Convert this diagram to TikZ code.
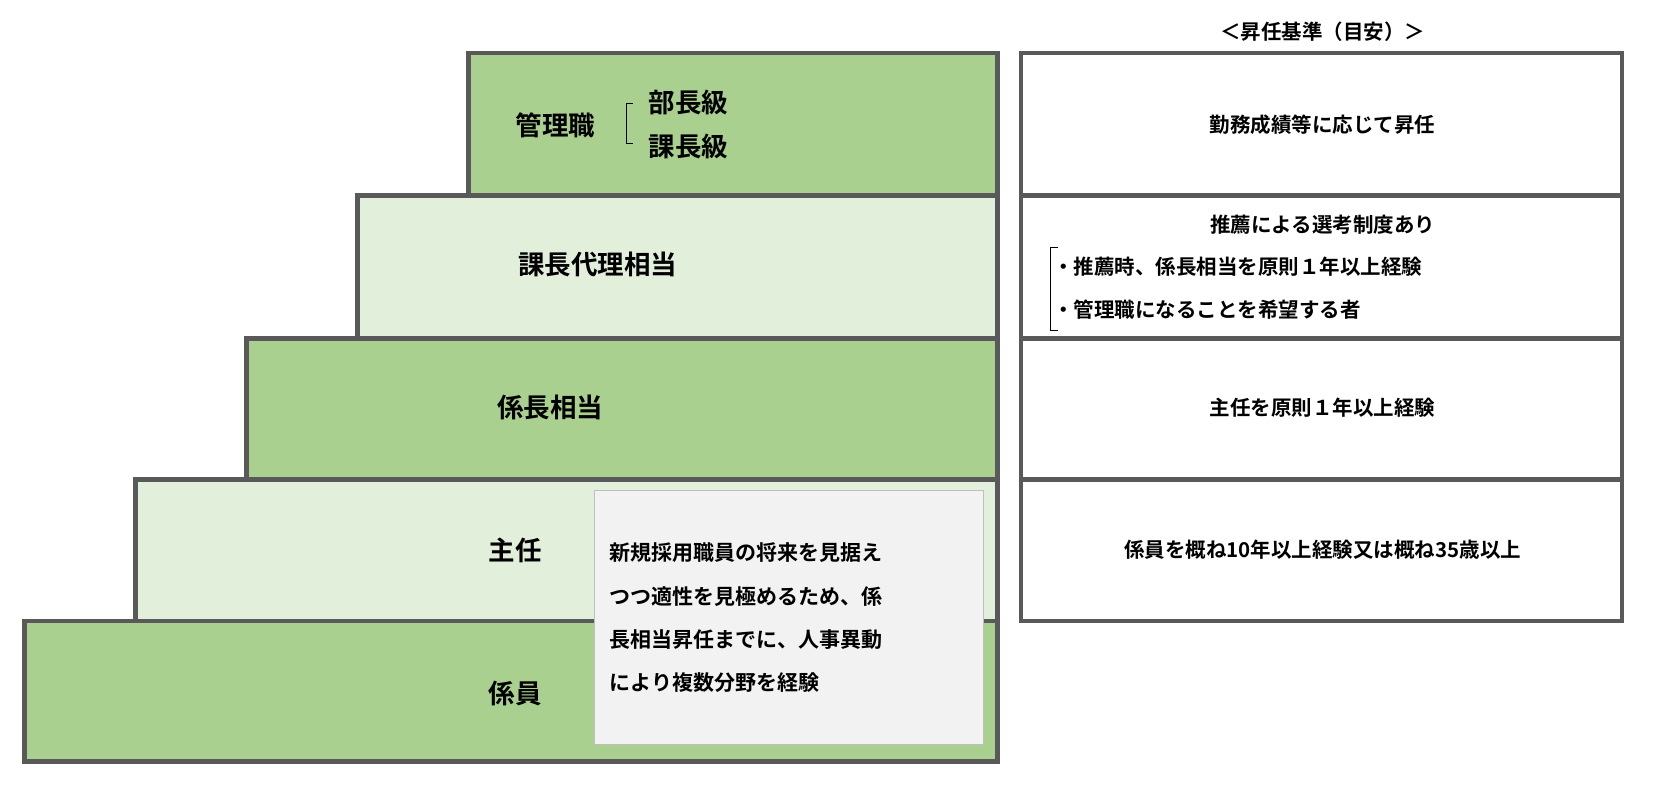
\documentclass[tikz,border=0pt]{standalone}
\usepackage{fontspec}
\setmainfont{Noto Sans CJK JP}[BoldFont={Noto Sans CJK JP Bold}]
\definecolor{dg}{HTML}{A9D08E}
\definecolor{lg}{HTML}{E2EFDA}
\definecolor{bd}{HTML}{595959}
\begin{document}
\begin{tikzpicture}[x=1.058pt,y=-1.058pt,
 stepbox/.style={draw=bd,line width=4.8pt},
 crit/.style={draw=bd,line width=4.8pt,fill=white},
 big/.style={font=\fontsize{26.5}{32}\selectfont\bfseries},
 small/.style={font=\fontsize{20.5}{25}\selectfont\bfseries}]
\path[stepbox,fill=dg] (443,50) rectangle (943,185);
\path[stepbox,fill=lg] (338,185) rectangle (943,320);
\path[stepbox,fill=dg] (233,320) rectangle (943,453);
\path[stepbox,fill=lg] (128,453) rectangle (943,587);
\path[stepbox,fill=dg] (23,587) rectangle (943,720);
\node[big] (k1) at (525,118) {管理職};
\draw[line width=1pt] (598,98) -- (592,98) -- (592,136) -- (598,136);
\node[big,anchor=west] (k2) at (610,97) {部長級};
\node[big,anchor=west] (k3) at (610,138) {課長級};
\node[big] (k4) at (565,250) {課長代理相当};
\node[big] (k5) at (520,385) {係長相当};
\node[big] (k6) at (487,520) {主任};
\node[big] (k7) at (487,655) {係員};
\node[draw=black!25,line width=1pt,fill=black!5,minimum width=389pt,minimum height=254pt,anchor=north west] (g) at (561,463) {};
\node[anchor=west,align=left,font=\fontsize{21}{43.4}\selectfont\bfseries] (gt) at (573,584) {新規採用職員の将来を見据え\\つつ適性を見極めるため、係\\長相当昇任までに、人事異動\\により複数分野を経験};
\path[crit] (965,50) rectangle (1533,185);
\path[crit] (965,185) rectangle (1533,320);
\path[crit] (965,320) rectangle (1533,453);
\path[crit] (965,453) rectangle (1533,587);
\node[small] (t) at (1250,30) {＜昇任基準（目安）＞};
\node[small] (r1) at (1250,118) {勤務成績等に応じて昇任};
\node[small] (r2) at (1250,212) {推薦による選考制度あり};
\draw[line width=1pt] (1000,234) -- (993,234) -- (993,312) -- (1000,312);
\node[small,anchor=west] (r3) at (992,252) {・推薦時、係長相当を原則１年以上経験};
\node[small,anchor=west] (r4) at (992,293) {・管理職になることを希望する者};
\node[small] (r5) at (1250,385) {主任を原則１年以上経験};
\node[small] (r6) at (1250,520) {係員を概ね10年以上経験又は概ね35歳以上};
\pgfresetboundingbox
\useasboundingbox (0,0) rectangle (1567,752);
\end{tikzpicture}
\end{document}
